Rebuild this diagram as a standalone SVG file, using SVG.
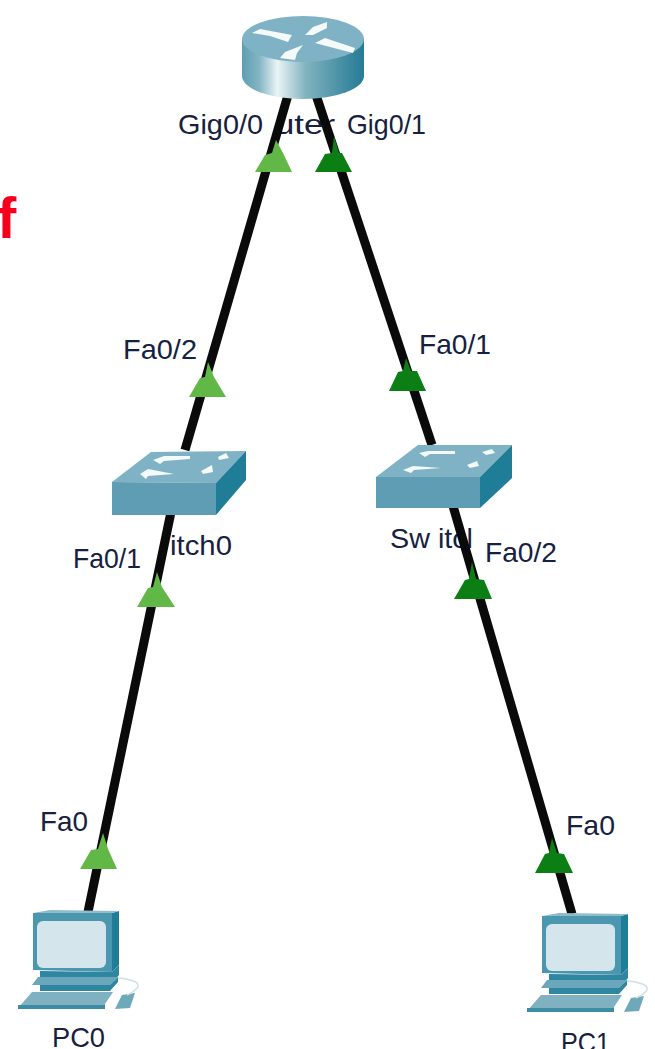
<svg xmlns="http://www.w3.org/2000/svg" xmlns:xlink="http://www.w3.org/1999/xlink" width="655" height="1049" viewBox="0 0 655 1049">
<style>
text{font-family:"Liberation Sans",Arial,sans-serif;font-size:28px;fill:#16213f}
.red{font-weight:bold;font-size:58px;fill:#f8001c}
.link{stroke:#0a0a0a;stroke-width:9;fill:none}
.lg{fill:#62b846}
.dg{fill:#0b7f14}
.top{fill:#7fb2c4}
.front{fill:#5f9db5}
.side{fill:#1f7d98}
.arrow{fill:#f4f9fa}
</style>
<defs>
<linearGradient id="cyl" x1="0" y1="0" x2="1" y2="0">
<stop offset="0" stop-color="#5d9fb2"/><stop offset=".14" stop-color="#82b5c3"/><stop offset=".29" stop-color="#eaf4f6"/><stop offset=".52" stop-color="#82b4c0"/><stop offset=".8" stop-color="#4a91a6"/><stop offset="1" stop-color="#247c94"/>
</linearGradient>
<g id="pc-icon">
<path d="M112 913L119 911V965L112 972Z" class="side"/>
<path d="M33 913L50 910L119 911L112 913Z" fill="#8fbccb"/>
<path d="M33 913H112V972L33 970Z" fill="#4b97b0"/>
<rect x="37" y="921" width="69" height="47" rx="6" fill="#d5e5ec"/>
<path d="M40 971L112 972L119 965V975L110 985H40Z" fill="#2f86a0"/>
<path d="M32 985L38 977H118L110 985Z" fill="#6ba7ba"/>
<path d="M40 985H110L118 977V982L110 991H40Z" fill="#2f86a0"/>
<path d="M18 1008L32 992H113L105 1004V1009Z" fill="#7fb1c1"/>
<path d="M18 1005H105V1009H18Z" fill="#3c8ca6"/>
<path d="M115 1009L122 995L135 993L130 1008Z" fill="#6ea9ba"/>
<path d="M118 978Q140 980 138 987Q134 992 127 995" fill="none" stroke="#cfe0e6" stroke-width="1.5"/>
</g>
</defs>
<rect width="655" height="1049" fill="#fff"/>
<text class="red" x="-3" y="238">f</text>
<g id="port-labels">
<text x="178" y="134" textLength="85" lengthAdjust="spacingAndGlyphs">Gig0/0</text>
<text x="347" y="134" textLength="79" lengthAdjust="spacingAndGlyphs">Gig0/1</text>
<text x="123" y="359" textLength="74" lengthAdjust="spacingAndGlyphs">Fa0/2</text>
<text x="419" y="354" textLength="72" lengthAdjust="spacingAndGlyphs">Fa0/1</text>
<text x="73" y="568" textLength="68" lengthAdjust="spacingAndGlyphs">Fa0/1</text>
<text x="485" y="562" textLength="72" lengthAdjust="spacingAndGlyphs">Fa0/2</text>
<text x="40" y="831" textLength="48" lengthAdjust="spacingAndGlyphs">Fa0</text>
<text x="566" y="835" textLength="49" lengthAdjust="spacingAndGlyphs">Fa0</text>
</g>
<g id="node-labels">
<text x="275" y="134" textLength="60" lengthAdjust="spacingAndGlyphs">uter</text>
<text x="170" y="555" textLength="62" lengthAdjust="spacingAndGlyphs">itch0</text>
<text x="390" y="548" textLength="83" lengthAdjust="spacingAndGlyphs">Sw itcl</text>
</g>
<g id="connectors">
<path class="link" d="M288 95L185 450"/>
<path class="link" d="M171 512L88 912"/>
<path class="link" d="M316 95L432 445"/>
<path class="link" d="M453 506L572 914"/>
<path class="lg" d="M255 172L265 155L272 153L276 140L283 153L292 172Z"/>
<path class="dg" d="M315 172L325 154L332 153L334 136L339 153L342 153L352 172Z"/>
<path class="lg" d="M189 397L200 378L205 377L208 362L214 377L226 397Z"/>
<path class="dg" d="M389 391L398 372L403 371L406 358L411 371L417 371L426 391Z"/>
<path class="lg" d="M137 607L148 588L153 587L157 572L162 587L175 607Z"/>
<path class="dg" d="M454 599L465 580L469 579L472 562L476 579L484 580L492 599Z"/>
<path class="lg" d="M80 869L91 850L98 849L103 833L108 849L117 869Z"/>
<path class="dg" d="M535 873L545 854L549 853L552 838L557 853L564 854L573 873Z"/>
</g>
<g id="Router">
<path d="M242 39V76A61 23 0 0 0 364 76V39Z" fill="url(#cyl)"/>
<ellipse cx="303" cy="39" rx="61" ry="23" class="top"/>
<path class="arrow" d="M252 33L260 29L292 35L288 42L270 36Z"/>
<path class="arrow" d="M305 35L313 27L327 22L327 28L313 35Z"/>
<path class="arrow" d="M280 58L285 52L303 45L297 53L295 60Z"/>
<path class="arrow" d="M315 43L325 38L355 48L353 53L330 47Z"/>
</g>
<g id="Switch0">
<path class="top" d="M112 482L151 452L246 451L216 483Z"/>
<path class="front" d="M112 482L216 483V515H112Z"/>
<path class="side" d="M216 483L246 451V480L216 515Z"/>
<path class="arrow" d="M153 460L164 456H190V459L164 461L160 464Z"/>
<path class="arrow" d="M218 457L226 453L229 458L219 460Z"/>
<path class="arrow" d="M140 474L148 469L174 474L148 476L146 479Z"/>
<path class="arrow" d="M201 471L212 465L213 472L203 474Z"/>
</g>
<g id="Switch1">
<path class="top" d="M376 477L418 445H512L480 477Z"/>
<path class="front" d="M376 477H480V508H376Z"/>
<path class="side" d="M480 477L512 445V478L480 508Z"/>
<path class="arrow" d="M419 453L428 451H455V454H430L425 457Z"/>
<path class="arrow" d="M482 452L492 449L495 453L486 455Z"/>
<path class="arrow" d="M403 470L413 466L441 468L414 470L411 473Z"/>
<path class="arrow" d="M467 465L477 461L479 466L470 468Z"/>
</g>
<g id="PC0">
<use href="#pc-icon"/>
<text x="52" y="1047" textLength="53" lengthAdjust="spacingAndGlyphs">PC0</text>
</g>
<g id="PC1">
<use href="#pc-icon" x="509" y="3"/>
<text x="561" y="1052" textLength="49" lengthAdjust="spacingAndGlyphs">PC1</text>
</g>
</svg>
